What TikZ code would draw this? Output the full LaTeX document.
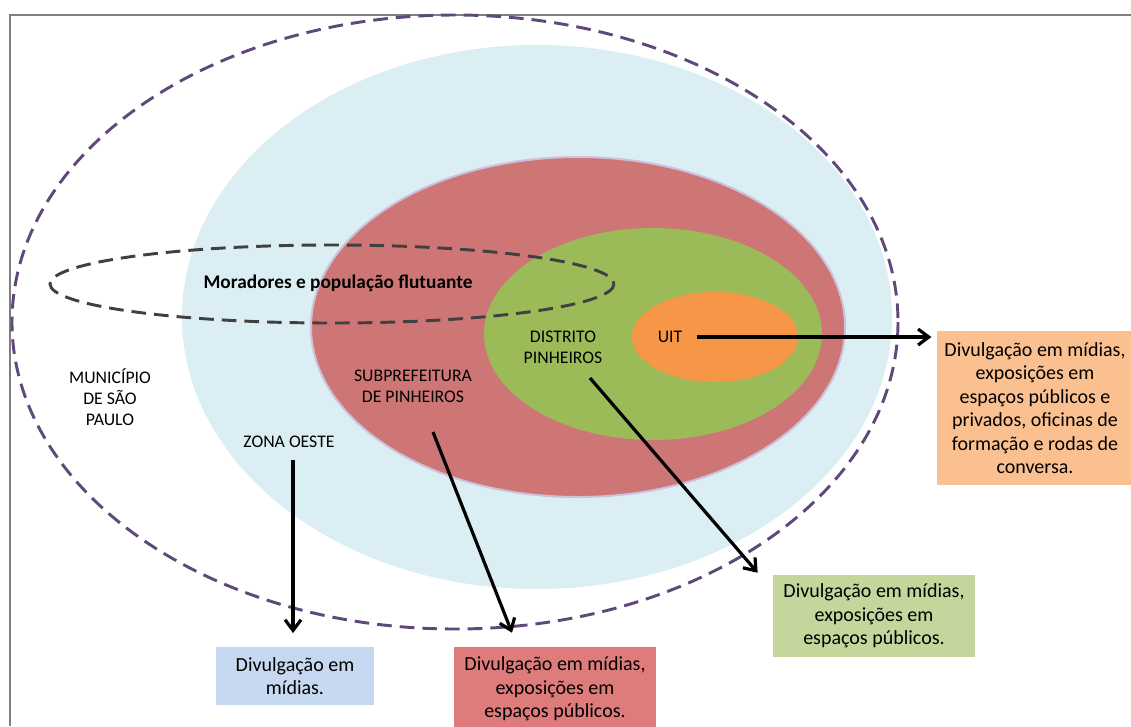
\documentclass[tikz,border=0pt]{standalone}
\usepackage{fontspec}
\setmainfont{Carlito}
\usetikzlibrary{arrows.meta, positioning, calc}
\definecolor{mypurple}{HTML}{5F497A}
\definecolor{mygray}{HTML}{404040}
\definecolor{myframe}{HTML}{7F7F7F}
\definecolor{mylightblue}{HTML}{DAEEF3}
\definecolor{myred}{RGB}{206,118,118}
\definecolor{mylavender}{HTML}{CCC0DA}
\definecolor{mygreen}{HTML}{9BBB59}
\definecolor{myorange}{HTML}{F79646}
\definecolor{boxorange}{HTML}{FAC090}
\definecolor{boxgreen}{HTML}{C3D69B}
\definecolor{boxred}{RGB}{222,124,124}
\definecolor{boxblue}{HTML}{C6D9F1}
\tikzstyle{zonetext} = [align=center, inner sep=0pt, font=\fontsize{13.3}{15.5}\selectfont]
\tikzstyle{infobox} = [align=center, inner sep=0pt, font=\fontsize{15}{17.6}\selectfont]
\tikzstyle{arrow} = [line width=2.4pt, -{Straight Barb[length=8pt, width=12pt]}]
\tikzstyle{limit} = [line width=2.2pt, dash pattern=on 11pt off 6pt]

\begin{document}
\begin{tikzpicture}[x=0.75pt, y=-0.75pt]
    \useasboundingbox (0,0) rectangle (1131,726);
    \draw[myframe, line width=1pt] (10,726) -- (10,15) -- (1131,15);
    % nested areas
    \fill[mylightblue] (537,317) ellipse [x radius=355, y radius=272];
    \filldraw[fill=myred, draw=mylavender, line width=1.5pt] (578,327) ellipse [x radius=267, y radius=170];
    \fill[mygreen] (653,334) ellipse [x radius=169, y radius=106];
    \fill[myorange] (715,337) ellipse [x radius=83, y radius=45];
    \draw[limit, mypurple] (455,322) ellipse [x radius=443, y radius=307];
    \draw[limit, mygray] (332,284) ellipse [x radius=282, y radius=39];
    % labels
    \node[zonetext, font=\bfseries\fontsize{14.5}{17}\selectfont] (moradores) at (338,283) {Moradores e população flutuante};
    \node[zonetext] (municipio) at (110,397) {MUNICÍPIO\\DE SÃO\\PAULO};
    \node[zonetext] (zona) at (289,442) {ZONA OESTE};
    \node[zonetext] (sub) at (413,386) {SUBPREFEITURA\\DE PINHEIROS};
    \node[zonetext] (distrito) at (563,347) {DISTRITO\\PINHEIROS};
    \node[zonetext] (uit) at (670,337) {UIT};
    % actions
    \node[infobox, fill=boxorange, minimum width=147pt, minimum height=116pt] (obox) at (1035,408) {Divulgação em mídias,\\exposições em\\espaços públicos e\\privados, oficinas de\\formação e rodas de\\conversa.};
    \node[infobox, fill=boxgreen, minimum width=151.5pt, minimum height=61.5pt] (gbox) at (874,616) {Divulgação em mídias,\\exposições em\\espaços públicos.};
    \node[infobox, fill=boxred, minimum width=151pt, minimum height=63pt] (pbox) at (555,689) {Divulgação em mídias,\\exposições em\\espaços públicos.};
    \node[infobox, fill=boxblue, minimum width=118.5pt, minimum height=44pt] (bbox) at (295,676) {Divulgação em\\mídias.};
    % connectors
    \coordinate (ztail) at (293,460);
    \coordinate (stail) at (433,432);
    \coordinate (dtail) at (590,378);
    \draw[arrow, shorten <=11pt, shorten >=4pt] (uit.east) -- (uit.east -| obox.west);
    \draw[arrow, shorten >=2pt] (dtail) -- ([xshift=-10]gbox.north west);
    \draw[arrow] (stail) -- ([shift={(-43,-14)}]pbox.north);
    \draw[arrow, shorten >=10pt] (ztail) -- (ztail |- bbox.north);
\end{tikzpicture}
\end{document}
